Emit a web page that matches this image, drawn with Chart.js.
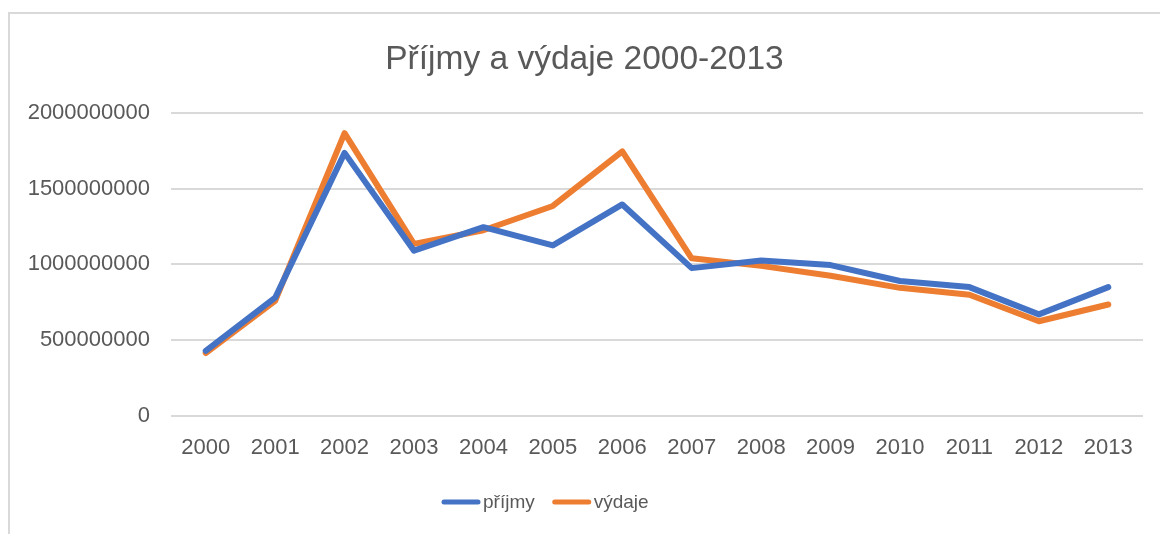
<!DOCTYPE html>
<html>
<head>
<meta charset="utf-8">
<title>Příjmy a výdaje 2000-2013</title>
<script src="https://cdn.jsdelivr.net/npm/chart.js@4.4.1/dist/chart.umd.min.js"></script>
<style>
    html, body { margin: 0; padding: 0; background: #fff; overflow: hidden; }
    #frame {
        position: absolute; left: 8px; top: 12px; width: 1200px; height: 600px;
        border-left: 2px solid #d9d9d9; border-top: 2px solid #d9d9d9;
    }
    #wrap { position: absolute; left: 0; top: 0; width: 1160px; height: 534px; }
</style>
</head>
<body>
<div id="frame"></div>
<div id="wrap"><canvas id="chart"></canvas></div>
<script>
const years = ['2000', '2001', '2002', '2003', '2004', '2005', '2006',
               '2007', '2008', '2009', '2010', '2011', '2012', '2013'];
const prijmy = [430e6, 780e6, 1735e6, 1090e6, 1245e6, 1125e6, 1395e6,
                975e6, 1025e6, 995e6, 890e6, 850e6, 670e6, 850e6];
const vydaje = [415e6, 760e6, 1865e6, 1135e6, 1225e6, 1385e6, 1745e6,
                1040e6, 990e6, 925e6, 845e6, 800e6, 625e6, 735e6];
const yTicks = [0, 500000000, 1000000000, 1500000000, 2000000000];

const FONT = 'Liberation Sans';
const TEXT = '#595959';

// legend drawn under the axis, Excel style: short thick line then the label
const bottomLegend = {
    id: 'bottomLegend',
    afterDraw(chart) {
        const c = chart.ctx;
        let x = 442;
        const y = 502;
        c.save();
        c.font = '19px "' + FONT + '"';
        c.textBaseline = 'middle';
        chart.data.datasets.forEach(ds => {
            c.strokeStyle = ds.borderColor;
            c.lineWidth = 5;
            c.lineCap = 'round';
            c.beginPath();
            c.moveTo(x + 2, y);
            c.lineTo(x + 36, y);
            c.stroke();
            c.fillStyle = TEXT;
            c.fillText(ds.label, x + 41, y + 1);
            x += 41 + c.measureText(ds.label).width + 18;
        });
        c.restore();
    }
};

const ctx = document.getElementById('chart').getContext('2d');
new Chart(ctx, {
    type: 'line',
    data: {
        labels: years,
        datasets: [
            { label: 'příjmy', data: prijmy, borderColor: '#4472c4', backgroundColor: '#4472c4' },
            { label: 'výdaje', data: vydaje, borderColor: '#ed7d31', backgroundColor: '#ed7d31' }
        ]
    },
    options: {
        responsive: true,
        maintainAspectRatio: false,
        animation: false,
        layout: { padding: { left: 26, right: 17, top: 20, bottom: 53.6 } },
        elements: {
            line: { borderWidth: 6, tension: 0, borderCapStyle: 'round', borderJoinStyle: 'round' },
            point: { radius: 0, hoverRadius: 0 }
        },
        plugins: {
            title: {
                display: true,
                text: 'Příjmy a výdaje 2000-2013',
                color: TEXT,
                font: { family: FONT, size: 33.5, weight: 'normal' },
                padding: { top: 20, bottom: 32.5 }
            },
            legend: { display: false },
            tooltip: { enabled: false }
        },
        scales: {
            x: {
                offset: true,
                grid: { display: false, drawTicks: false },
                border: { display: false },
                ticks: { color: TEXT, font: { family: FONT, size: 22 }, padding: 19, maxRotation: 0 }
            },
            y: {
                min: 0,
                max: 2000000000,
                afterBuildTicks: scale => { scale.ticks = yTicks.map(v => ({ value: v })); },
                afterFit: scale => { scale.width = 145; },
                grid: { color: '#d9d9d9', lineWidth: 2, drawTicks: false },
                border: { display: false },
                ticks: {
                    color: TEXT,
                    font: { family: FONT, size: 22 },
                    padding: 21,
                    callback: v => String(v)
                }
            }
        }
    },
    plugins: [bottomLegend]
});
</script>
</body>
</html>
